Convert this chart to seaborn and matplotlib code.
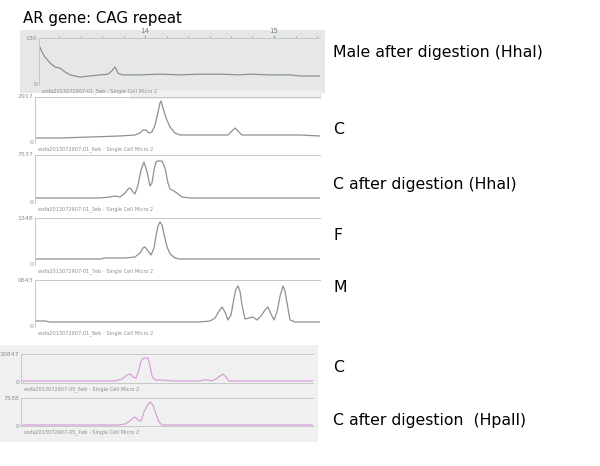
import matplotlib
matplotlib.use("Agg")
import matplotlib.pyplot as plt
import seaborn as sns
from matplotlib.patches import Rectangle
from matplotlib.ticker import MultipleLocator, FixedLocator

sns.set_style("white")
plt.rcParams['font.family'] = ['DejaVu Sans']

# ---------------- data (x in minutes, y in RFU) ----------------
title = "AR gene: CAG repeat"
labels = ["Male after digestion (HhaI)", "C", "C after digestion (HhaI)", "F", "M",
          "C", "C after digestion  (HpaII)"]
ymax_labels = ["130", "2917", "7537", "1348", "0643", "10847", "7538"]
ymax_values = [130, 2917, 7537, 1348, 10643, 10847, 7538]
sample_names = ["wsfa2013072907-01_5eb - Single Cell Micro 2",
                "wsfa2013072907-01_6eb - Single Cell Micro 2",
                "wsfa2013072907-01_3eb - Single Cell Micro 2",
                "wsfa2013072907-01_7eb - Single Cell Micro 2",
                "wsfa2013072907-01_8eb - Single Cell Micro 2",
                "wsfa2013072907-05_6eb - Single Cell Micro 2",
                "wsfa2013072907-05_7eb - Single Cell Micro 2"]
top_ticks = [14, 15]

p1_x = [13.178, 13.202, 13.225, 13.264, 13.302, 13.341, 13.380, 13.419, 13.457, 13.496,
        13.574, 13.651, 13.713, 13.744, 13.767, 13.791, 13.822, 13.961, 14.116, 14.271,
        14.426, 14.581, 14.736, 14.814, 14.969, 15.124, 15.202, 15.279, 15.357]
p1_y = [111, 91, 77, 61, 50, 47, 36, 28, 25, 22,
        25, 28, 30, 39, 50, 33, 28, 28, 30, 28,
        30, 30, 28, 30, 28, 28, 25, 25, 25]

p2_x = [13.147, 13.341, 13.574, 13.806, 13.922, 13.961, 13.984, 14.008, 14.031, 14.054,
        14.078, 14.101, 14.116, 14.124, 14.140, 14.163, 14.194, 14.233, 14.271, 14.426,
        14.643, 14.674, 14.698, 14.721, 14.752, 14.969, 15.202, 15.357]
p2_y = [317, 317, 380, 444, 507, 634, 824, 824, 634, 697,
        1141, 1965, 2536, 2663, 2219, 1585, 1014, 634, 507, 507,
        507, 761, 951, 761, 507, 507, 507, 444]

p3_x = [13.147, 13.651, 13.729, 13.767, 13.806, 13.845, 13.868, 13.884, 13.907, 13.922,
        13.946, 13.969, 13.992, 14.016, 14.039, 14.054, 14.070, 14.085, 14.101, 14.132,
        14.155, 14.178, 14.194, 14.225, 14.256, 14.287, 14.349, 15.357]
p3_y = [785, 785, 942, 1099, 942, 1570, 2198, 2355, 1727, 1413,
        2826, 5181, 6437, 4867, 2669, 3140, 5181, 6437, 6594, 6594,
        5495, 3140, 2198, 1884, 1413, 942, 785, 785]

p4_x = [13.147, 13.651, 13.690, 13.845, 13.922, 13.961, 13.984, 14.000, 14.023, 14.047,
        14.070, 14.085, 14.101, 14.116, 14.132, 14.147, 14.171, 14.194, 14.233, 14.271,
        15.357]
p4_y = [172, 172, 201, 201, 230, 344, 488, 517, 402, 287,
        488, 832, 1119, 1234, 1148, 890, 517, 316, 201, 172,
        172]

p5_x = [13.147, 13.225, 13.264, 14.426, 14.504, 14.543, 14.574, 14.597, 14.620, 14.643,
        14.667, 14.690, 14.705, 14.721, 14.736, 14.752, 14.775, 14.806, 14.837, 14.868,
        14.899, 14.930, 14.953, 14.977, 15.000, 15.023, 15.047, 15.070, 15.085, 15.101,
        15.124, 15.163, 15.357]
p5_y = [1358, 1358, 1132, 1132, 1358, 2038, 3622, 4528, 3396, 1585,
        2717, 6566, 8603, 9282, 8150, 4981, 1811, 2038, 2264, 1585,
        2490, 3849, 4528, 2943, 1585, 3396, 7018, 9282, 8150, 5434,
        1585, 1132, 1132]

p6_x = [13.039, 13.767, 13.822, 13.860, 13.884, 13.907, 13.930, 13.953, 13.969, 13.992,
        14.023, 14.039, 14.054, 14.078, 14.116, 14.233, 14.426, 14.457, 14.488, 14.519,
        14.550, 14.581, 14.605, 14.628, 14.651, 15.302]
p6_y = [748, 748, 1496, 2992, 3366, 2244, 1870, 4862, 8228, 9350,
        9350, 6358, 2618, 1122, 1122, 748, 748, 1122, 1122, 748,
        1496, 2618, 3366, 2244, 748, 748]

p7_x = [13.039, 13.791, 13.845, 13.884, 13.907, 13.922, 13.946, 13.969, 13.992, 14.016,
        14.039, 14.062, 14.085, 14.109, 14.132, 15.302]
p7_y = [269, 269, 538, 1346, 2154, 2423, 1615, 1346, 3769, 5384,
        6461, 5653, 3230, 1077, 269, 269]

traces_x = [p1_x, p2_x, p3_x, p4_x, p5_x, p6_x, p7_x]
traces_y = [p1_y, p2_y, p3_y, p4_y, p5_y, p6_y, p7_y]

# ---------------- layout (pixels) ----------------
W, H = 600, 466
boxes = [(39, 38, 320, 85), (35, 97, 320, 143), (35, 155, 320, 203),
         (35, 218, 320, 265), (35, 280, 320, 327), (21, 354, 313, 383),
         (21, 398, 313, 426)]
label_y = [52, 130, 184, 235, 288, 368, 421]
line_colors = ["#8c9190"] * 5 + ["#d8a0d8"] * 2


def px2min(px):
    return 14 + (px - 145) / 129.0


fig = plt.figure(figsize=(W / 100, H / 100), dpi=100)
fig.patch.set_facecolor("white")

# photo-like backgrounds (behind the axes)
for (x0, y0, w, h, c) in [(20, 30, 305, 63, "#e6e8e7"), (130, 90, 192, 9, "#eef0ef"),
                          (0, 345, 318, 97, "#f0f0f0")]:
    fig.patches.append(Rectangle((x0 / W, 1 - (y0 + h) / H), w / W, h / H,
                                 transform=fig.transFigure, facecolor=c,
                                 edgecolor="none", zorder=-10))

for i, (l, t, r, b) in enumerate(boxes):
    ax = fig.add_axes([l / W, 1 - b / H, (r - l) / W, (b - t) / H])
    ax.patch.set_alpha(0)
    sns.lineplot(x=traces_x[i], y=traces_y[i], ax=ax, color=line_colors[i],
                 linewidth=0.9, estimator=None, sort=False)
    ax.set_xlim(px2min(l), px2min(r))
    ax.set_ylim(0, ymax_values[i])
    ax.set_xticks([])
    ax.set_yticks([])
    ax.set_xlabel("")
    ax.set_ylabel("")
    for s in ["left", "top", "bottom", "right"]:
        ax.spines[s].set_color("#c4c9c8")
        ax.spines[s].set_linewidth(0.7)
    ax.spines["right"].set_visible(False)
    if i < 5:
        ax.spines["bottom"].set_visible(False)
    if i == 0:
        ax.xaxis.set_ticks_position("top")
        ax.xaxis.set_major_locator(FixedLocator(top_ticks))
        ax.xaxis.set_minor_locator(MultipleLocator(1 / 6))
        ax.tick_params(axis="x", which="both", direction="out", length=2, color="#9aa09f",
                       labelsize=5, labelcolor="#7d8281", pad=1, top=True, bottom=False)
        ax.tick_params(axis="x", which="minor", length=1.5)
    # y limit labels
    fig.text((l - 2) / W, 1 - t / H, ymax_labels[i], ha="right", va="center",
             fontsize=4.5, color="#8a8f8e")
    fig.text((l - 2) / W, 1 - b / H, "0", ha="right", va="center",
             fontsize=4.5, color="#8a8f8e")
    fig.text((l + 3) / W, 1 - (b + 6) / H, sample_names[i], ha="left", va="center",
             fontsize=3.6, color="#8a8f8e")
    fig.text(333 / W, 1 - label_y[i] / H, labels[i], ha="left", va="center",
             fontsize=11.3, color="black")

fig.text(23 / W, 1 - 18 / H, title, ha="left", va="center", fontsize=10.8, color="black")

fig.savefig("out.png", dpi=100, facecolor="white")
